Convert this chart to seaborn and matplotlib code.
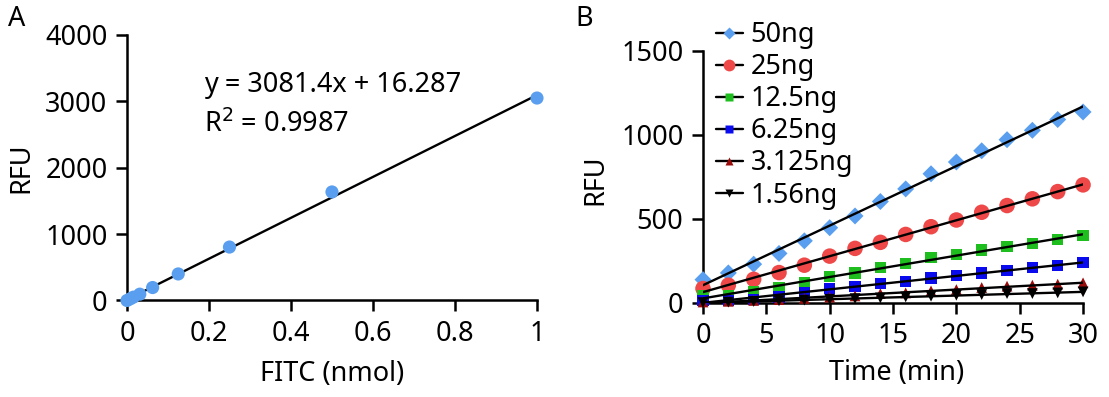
import matplotlib
matplotlib.use("Agg")
import matplotlib.pyplot as plt
from matplotlib.lines import Line2D
import seaborn as sns
import pandas as pd

# ---------------- data ----------------
fitc_nmol = [0, 0.0078, 0.0156, 0.03125, 0.0625, 0.125, 0.25, 0.5, 1.0]
fitc_rfu = [0, 25, 50, 95, 195, 400, 805, 1635, 3050]
eq_text = "y = 3081.4x + 16.287"
r2_text = "R$^2$ = 0.9987"

time_min = [0, 2, 4, 6, 8, 10, 12, 14, 16, 18, 20, 22, 24, 26, 28, 30]
series_names = ["50ng", "25ng", "12.5ng", "6.25ng", "3.125ng", "1.56ng"]
rfu_50 = [139, 179, 231, 295, 370, 448, 518, 604, 679, 769, 839, 906, 972, 1028, 1092, 1137]
rfu_25 = [86, 106, 141, 181, 225, 279, 325, 361, 408, 454, 494, 540, 580, 620, 663, 703]
rfu_12_5 = [46, 46, 66, 92, 120, 159, 179, 209, 235, 269, 289, 315, 335, 355, 378, 400]
rfu_6_25 = [16, 16, 22, 36, 60, 86, 100, 116, 130, 149, 165, 179, 195, 209, 221, 239]
rfu_3_125 = [6, 10, 15, 20, 27, 35, 42, 56, 60, 72, 80, 92, 100, 106, 112, 120]
rfu_1_56 = [2, 5, 9, 13, 17, 22, 26, 30, 36, 40, 46, 50, 56, 56, 60, 66]
series_values = [rfu_50, rfu_25, rfu_12_5, rfu_6_25, rfu_3_125, rfu_1_56]

colors = ["#5A9FEF", "#EF4848", "#1DBE1D", "#0A0AEE", "#9A0B0B", "#000000"]
markers = ["D", "o", "s", "s", "^", "v"]
msizes = [75, 125, 65, 65, 60, 60]
leg_msizes = [6, 8.5, 6, 6, 6, 6]

# ---------------- style ----------------
sns.set_theme(style="ticks")
plt.rcParams["font.family"] = ["Noto Sans", "DejaVu Sans"]
FS = 19.5
plt.rcParams.update({
    "axes.linewidth": 1.8,
    "xtick.major.width": 1.8,
    "ytick.major.width": 1.8,
    "xtick.major.size": 8,
    "ytick.major.size": 8,
    "xtick.major.pad": 6,
    "ytick.major.pad": 6,
    "xtick.labelsize": FS,
    "ytick.labelsize": FS,
    "axes.labelsize": FS,
    "xtick.color": "black",
    "ytick.color": "black",
    "axes.edgecolor": "black",
    "text.color": "black",
    "axes.labelcolor": "black",
})

fig = plt.figure(figsize=(11.09, 3.97), dpi=100)
axA = fig.add_axes([0.1145, 0.2431, 0.3697, 0.6688])
axB = fig.add_axes([0.6339, 0.2368, 0.3427, 0.6348])

# ---------------- panel A ----------------
dfA = pd.DataFrame({"FITC": fitc_nmol, "RFU": fitc_rfu})
sns.regplot(data=dfA, x="FITC", y="RFU", ax=axA, ci=None, scatter=False,
            color="black", line_kws={"linewidth": 1.7, "zorder": 2})
sns.scatterplot(data=dfA, x="FITC", y="RFU", ax=axA, color=colors[0],
                s=90, edgecolor="none", zorder=3, clip_on=False)
axA.set_xlim(0, 1)
axA.set_ylim(0, 4000)
axA.set_xticks([0, 0.2, 0.4, 0.6, 0.8, 1.0])
axA.set_xticklabels(["0", "0.2", "0.4", "0.6", "0.8", "1"])
axA.set_yticks([0, 1000, 2000, 3000, 4000])
axA.set_xlabel("FITC (nmol)", fontsize=FS, va="center")
axA.set_ylabel("RFU", fontsize=FS, va="center")
axA.xaxis.set_label_coords(0.5, -0.275)
axA.yaxis.set_label_coords(-0.258, 0.5)
axA.text(0.187, 3135, eq_text, fontsize=FS, va="baseline", ha="left")
axA.text(0.187, 2534, r2_text, fontsize=FS, va="baseline", ha="left")
sns.despine(ax=axA)

# ---------------- panel B ----------------
rows = []
for name, vals in zip(series_names, series_values):
    for t, v in zip(time_min, vals):
        rows.append({"Time": t, "RFU": v, "Series": name})
dfB = pd.DataFrame(rows)

for name, col, mk, ms in zip(series_names, colors, markers, msizes):
    sub = dfB[dfB["Series"] == name]
    sns.scatterplot(data=sub, x="Time", y="RFU", ax=axB, color=col, marker=mk,
                    s=ms, edgecolor="none", zorder=3, clip_on=False, legend=False)
for name in series_names:
    sub = dfB[dfB["Series"] == name]
    sns.regplot(data=sub, x="Time", y="RFU", ax=axB, ci=None, scatter=False,
                color="black", line_kws={"linewidth": 1.7, "zorder": 4})

axB.set_xlim(0, 30)
axB.set_ylim(0, 1500)
axB.set_xticks([0, 5, 10, 15, 20, 25, 30])
axB.set_yticks([0, 500, 1000, 1500])
axB.set_xlabel("Time (min)", fontsize=FS, va="center")
axB.set_ylabel("RFU", fontsize=FS, va="center")
axB.xaxis.set_label_coords(0.51, -0.276)
axB.yaxis.set_label_coords(-0.284, 0.49)
sns.despine(ax=axB)

handles = [Line2D([0], [0], color="black", lw=1.7, marker=mk, markersize=lm,
                  markerfacecolor=col, markeredgecolor="none")
           for col, mk, lm in zip(colors, markers, leg_msizes)]
axB.legend(handles, series_names, loc="upper left", bbox_to_anchor=(0.034, 1.118),
           frameon=False, fontsize=FS, handlelength=1.0, handletextpad=0.28,
           labelspacing=0.15, borderaxespad=0, borderpad=0)

fig.text(0.0153, 0.952, "A", fontsize=FS, fontweight="semibold", ha="center", va="center")
fig.text(0.5266, 0.952, "B", fontsize=FS, fontweight="semibold", ha="center", va="center")

fig.savefig("out.png", dpi=100)
